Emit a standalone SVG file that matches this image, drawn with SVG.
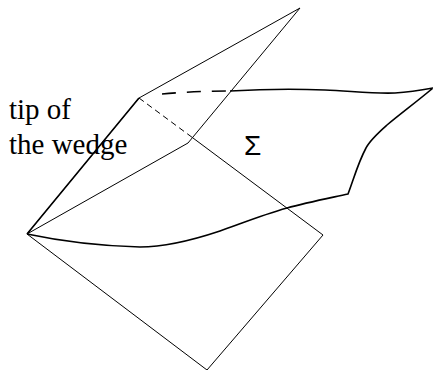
<svg xmlns="http://www.w3.org/2000/svg" width="433" height="370" viewBox="0 0 433 370">
<style>
.l{fill:none;stroke:#000;stroke-width:1}
.h{fill:none;stroke:#000;stroke-width:1.6}
text{font-family:"Liberation Serif",serif;font-size:29px;fill:#000}
</style>
<g id="connectors">
<path class="l" d="M27 234L139 98L300 8L188 143L27 234"/>
<path class="l" d="M193 138L323 235L207 370L27 234"/>
<path class="l" d="M139 98L193 138" style="stroke-dasharray:6 4"/>
<path class="h" d="M27 234L139 98"/>
<path class="h" d="M162 94Q195 91 230 91" style="stroke-dasharray:14 11"/>
<path class="h" d="M230 91C265 89 300 89 325 90C350 91 375 94 395 93C410 92 422 90 433 88C415 103 400 114 387 125C378 133 370 140 366 148C358 163 354 178 348 194C325 199 305 203 287 208C262 215 240 224 220 231C190 241 165 247 140 247C100 246 60 241 27 234"/>
</g>
<g id="tip-label">
<text x="9" y="119">tip of</text>
<text x="9" y="154">the wedge</text>
</g>
<g id="sigma-label"><text x="244" y="155" style="font-family:'Liberation Sans',sans-serif;font-size:28px">Σ</text></g>
</svg>
